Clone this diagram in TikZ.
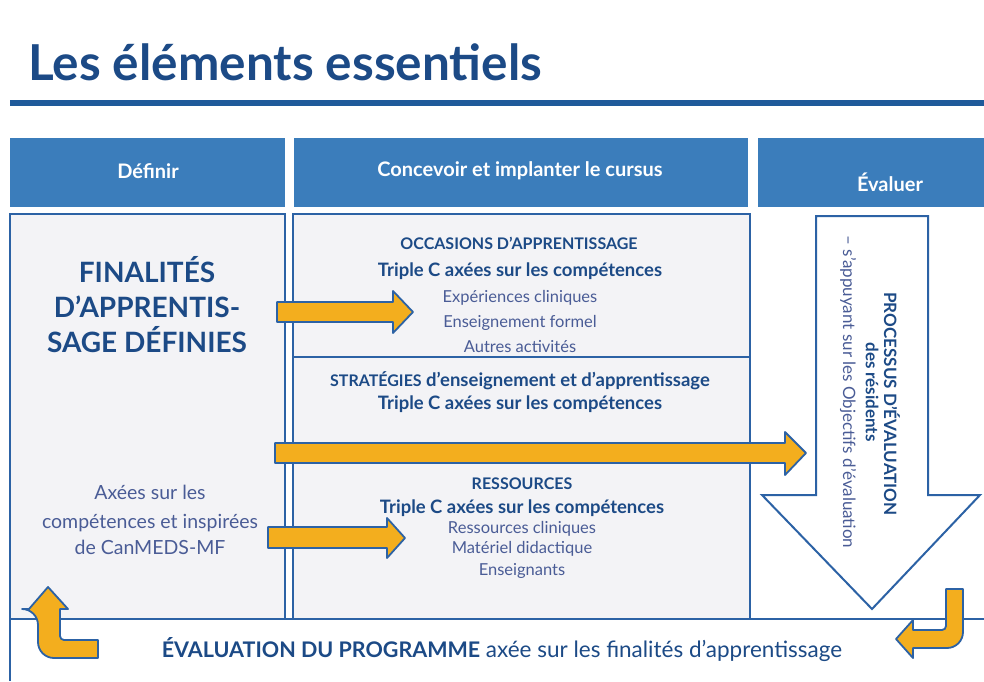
\documentclass[tikz,border=0pt]{standalone}
\usepackage{fontspec}
\setmainfont{Lato}
\definecolor{navy}{HTML}{1C4A86}
\definecolor{rulec}{HTML}{1F5A9A}
\definecolor{hdr}{HTML}{3B7DBB}
\definecolor{bord}{HTML}{2C62A5}
\definecolor{boxfill}{HTML}{F3F3F6}
\definecolor{orng}{HTML}{F3AE1E}
\definecolor{itemc}{HTML}{4A5C96}
\newcommand{\fsz}[1]{\fontsize{#1}{#1}\selectfont}
\begin{document}
\begin{tikzpicture}[x=1pt,y=-1pt,
  hdrbox/.style={fill=hdr, draw=none},
  hdrtext/.style={text=white, font=\bfseries\fsz{20}, inner sep=0pt},
  panel/.style={fill=boxfill, draw=bord, line width=2pt},
  orarrow/.style={fill=orng, draw=bord, line width=1.8pt, line join=round},
  bigtxt/.style={text=navy, font=\bfseries\fsz{28}, anchor=base, inner sep=0pt},
  subtxt/.style={text=itemc, font=\fsz{19.5}, anchor=base, inner sep=0pt},
  captxt/.style={text=navy, font=\bfseries\fsz{16}, anchor=base, inner sep=0pt},
  tripletxt/.style={text=navy, font=\bfseries\fsz{18.5}, anchor=base, inner sep=0pt},
  itemtxt/.style={text=itemc, font=\fsz{16.5}, anchor=base, inner sep=0pt},
  vtxt/.style={rotate=-90, inner sep=0pt, font=\fsz{17}}]
\useasboundingbox (0,0) rectangle (984,681);
\fill[white] (0,0) rectangle (984,681);

% title and rule
\node[anchor=base west, text=navy, font=\bfseries\fsz{49.5}, inner sep=0pt] (title) at (28,80) {Les éléments essentiels};
\draw[rulec, line width=6pt] (10,103) -- (984,103);

% headers
\fill[hdrbox] (10,138) rectangle (285,207);
\fill[hdrbox] (294,138) rectangle (748,207);
\fill[hdrbox] (758,138) rectangle (984,207);
\node[hdrtext] (hdef) at (148,171) {Définir};
\node[hdrtext] (hcon) at (520,171) {Concevoir et implanter le cursus};
\node[hdrtext] (heva) at (890,182) {Évaluer};

% panels
\draw[panel] (10,214) rectangle (285,619);
\draw[panel] (293,214) rectangle (750,619);
\draw[bord, line width=2pt] (293,357) -- (750,357);
\draw[bord, line width=2pt] (10,681) -- (10,619) -- (984,619);

% down arrow
\draw[fill=white, draw=bord, line width=2pt, line join=miter]
  (816,216) -- (928,216) -- (928,495) -- (980,495) -- (872,609) -- (762,495) -- (816,495) -- cycle;
\node[vtxt, text=navy, font=\bfseries\fsz{17}] (proc1) at (892,404) {PROCESSUS D’ÉVALUATION};
\node[vtxt, text=navy, font=\bfseries\fsz{17}] (proc2) at (872,392) {des résidents};
\node[vtxt, text=itemc] (proc3) at (848,392) {– s’appuyant sur les Objectifs d’évaluation};

% orange arrows
\draw[orarrow] (277,302) -- (393,302) -- (393,291) -- (413,312) -- (393,333) -- (393,322) -- (277,322) -- cycle;
\draw[orarrow] (275,443) -- (785,443) -- (785,432) -- (806,453) -- (785,475) -- (785,463) -- (275,463) -- cycle;
\draw[orarrow] (268,527) -- (387,527) -- (387,518) -- (405,538) -- (387,558) -- (387,548) -- (268,548) -- cycle;

% curved arrows
\draw[orarrow] (29,609) -- (48,587) -- (68,609) -- (60,609) [rounded corners=4pt] -- (60,640) [sharp corners] -- (98,640) -- (98,658) [rounded corners=16pt] -- (38,658) -- (38,609) [sharp corners] -- cycle;
\draw[orarrow] (946,589) -- (963,589) [rounded corners=16pt] -- (963,648) [sharp corners] -- (913,648) -- (913,658) -- (896,639) -- (913,620) -- (913,630) [rounded corners=4pt] -- (946,630) [sharp corners] -- cycle;

% left column text
\node[bigtxt] (fin1) at (147,282) {FINALITÉS};
\node[bigtxt] (fin2) at (147,317) {D’APPRENTIS-};
\node[bigtxt] (fin3) at (147,352) {SAGE DÉFINIES};
\node[subtxt] (axe1) at (150,499) {Axées sur les};
\node[subtxt] (axe2) at (150,528) {compétences et inspirées};
\node[subtxt] (axe3) at (150,554) {de CanMEDS-MF};

% middle column text
\node[captxt] (occ) at (519,249) {OCCASIONS D’APPRENTISSAGE};
\node[tripletxt] (tc1) at (520,276) {Triple C axées sur les compétences};
\node[itemtxt] (i11) at (520,302) {Expériences cliniques};
\node[itemtxt] (i12) at (520,327) {Enseignement formel};
\node[itemtxt] (i13) at (520,352) {Autres activités};
\node[tripletxt] (str) at (520,386) {{\fsz{16}STRATÉGIES} d’enseignement et d’apprentissage};
\node[tripletxt] (tc2) at (520,409) {Triple C axées sur les compétences};
\node[captxt] (res) at (522,489) {RESSOURCES};
\node[tripletxt] (tc3) at (522,513) {Triple C axées sur les compétences};
\node[itemtxt] (i31) at (522,533) {Ressources cliniques};
\node[itemtxt] (i32) at (522,553) {Matériel didactique};
\node[itemtxt] (i33) at (522,575) {Enseignants};

% bottom text
\node[anchor=base, inner sep=0pt, text=navy, font=\fsz{22.5}] (prog) at (502,657)
  {{\bfseries\fsz{21.5}ÉVALUATION DU PROGRAMME} axée sur les finalités d’apprentissage};
\end{tikzpicture}
\end{document}
